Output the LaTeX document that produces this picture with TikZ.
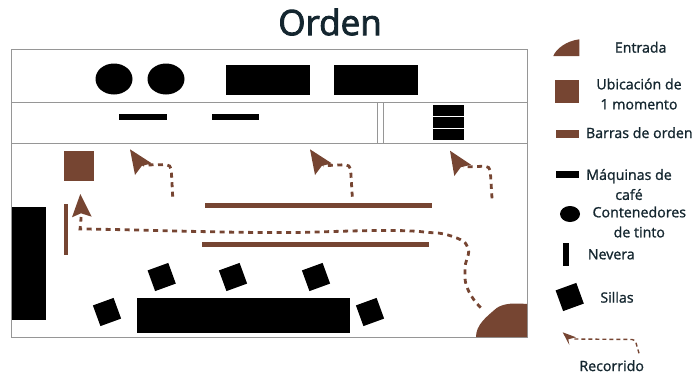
\documentclass[tikz,border=0pt]{standalone}
\usepackage{fontspec}
\setmainfont[FakeBold=1.2]{Open Sans}
\newfontfamily\fuentetitulo[FakeBold=2.5]{Open Sans}
\definecolor{cafe}{HTML}{764532}
\definecolor{tinta}{HTML}{14262F}
\definecolor{muro}{HTML}{969696}
\tikzset{
	barra/.style={fill=cafe},
	maquina/.style={fill=black},
	silla/.style={fill=black, minimum size=22pt, inner sep=0pt, rotate=20},
	leyenda/.style={text=tinta, font=\fontsize{14.2}{17}\selectfont, align=center, inner sep=0pt},
	recorrido/.style={cafe, line width=2.8pt, dash pattern=on 5pt off 4.5pt, rounded corners=5pt}
}
\begin{document}
\begin{tikzpicture}[x=1pt, y=-1pt]
	\useasboundingbox (0,0) rectangle (695,375);
	\node[text=tinta, font=\fuentetitulo\fontsize{35}{35}\selectfont, inner sep=0pt] (titulo) at (330,22) {Orden};
	% plano
	\draw[muro, line width=0.8pt] (11.5,49) rectangle (527,337);
	\draw[muro, line width=0.8pt] (11.5,102) -- (527,102) (11.5,143) -- (527,143);
	\draw[muro, line width=0.6pt] (377.5,102) -- (377.5,143) (383,102) -- (383,143);
	% contenedores y maquinas
	\fill[maquina] (114,79) ellipse (18.5 and 15.5);
	\fill[maquina] (166,79) ellipse (18.5 and 15.5);
	\fill[maquina] (226,65) rectangle (310,95);
	\fill[maquina] (334,65) rectangle (418,95);
	\fill[maquina] (119,114) rectangle (167,120);
	\fill[maquina] (212,114) rectangle (259,120);
	\fill[maquina] (433,105) rectangle (464,116);
	\fill[maquina] (433,117) rectangle (464,128);
	\fill[maquina] (433,129) rectangle (464,140);
	\fill[maquina] (11.5,207) rectangle (46,320);
	\fill[maquina] (137,298) rectangle (350,333);
	% barras
	\fill[barra] (63.5,151) rectangle (94,181);
	\fill[barra] (63.5,203.5) rectangle (68,255);
	\fill[barra] (205,203) rectangle (432,208);
	\fill[barra] (202,242) rectangle (429,247);
	% sillas
	\node[silla] (silla1) at (161.7,277) {};
	\node[silla] (silla2) at (233,277) {};
	\node[silla] (silla3) at (316,277) {};
	\node[silla] (silla4) at (107,312) {};
	\node[silla] (silla5) at (370,312) {};
	% entrada
	\fill[barra] (476,337) .. controls (476,325) and (486,317) .. (496.7,308) .. controls (504,303) and (515,303) .. (527,304) -- (527,337) -- cycle;
	% recorridos
	\draw[recorrido] (172.7,196.7) -- (171,164.5) -- (143,165);
	\fill[barra] (130,149.3) -- (151.7,163.3) -- (141.7,166) -- (135,175) -- cycle;
	\draw[recorrido] (352.3,196.7) -- (350.3,164.5) -- (323,165.7);
	\fill[barra] (310,149.3) -- (331.7,163.3) -- (321.7,166) -- (315,175) -- cycle;
	\draw[recorrido] (492,198.3) -- (490,166) -- (463,167);
	\fill[barra] (450,150.7) -- (471,164.7) -- (460.7,167.3) -- (454.3,176) -- cycle;
	\draw[recorrido] (480.7,307.7) .. controls (470,297) and (465,285) .. (465,273) .. controls (465,262) and (469,255) .. (468.3,246.7) .. controls (462,239) and (445,233) .. (430,232.7) .. controls (400,229) and (350,231) .. (300,232.5) .. controls (230,233) and (150,230) .. (85,229) .. controls (80,229) and (81,222) .. (81,217);
	\fill[barra] (80.3,194) -- (91.7,216.7) -- (81,213.3) -- (72,217.3) -- cycle;
	% leyenda
	\fill[barra] (553.3,56) .. controls (556,49) and (566,41) .. (579.3,39.3) -- (579.3,56) -- cycle;
	\node[leyenda] (entrada) at (640.7,47.3) {Entrada};
	\fill[barra] (555.3,80) rectangle (579,103.3);
	\node[leyenda] (ubicacion) at (639,94) {Ubicación de\\[3pt]1 momento};
	\fill[barra] (555.7,130) rectangle (579.3,138.3);
	\node[leyenda] (barras) at (639.3,132.7) {Barras de orden};
	\fill[maquina] (555.7,170.7) rectangle (579.3,177.7);
	\node[leyenda] (maquinas) at (629,184.5) {Máquinas de\\[3pt]café};
	\fill[maquina] (570,214) ellipse (10 and 8);
	\node[leyenda] (contenedores) at (639.3,222) {Contenedores\\[3pt]de tinto};
	\fill[maquina] (562.7,243.3) rectangle (569.3,265.7);
	\node[leyenda] (nevera) at (611.3,254.3) {Nevera};
	\node[silla] (sillaleyenda) at (569.7,297) {};
	\node[leyenda] (sillas) at (617,297.3) {Sillas};
	\draw[cafe, line width=1.4pt, dash pattern=on 4pt off 3pt, rounded corners=3pt] (639,353.3) -- (635,339.5) -- (573.3,339);
	\fill[barra] (562.7,332.3) -- (576,337.3) -- (568.3,339.3) -- (569.3,345) -- cycle;
	\node[leyenda] (recorridotxt) at (611.7,365.7) {Recorrido};
\end{tikzpicture}
\end{document}
